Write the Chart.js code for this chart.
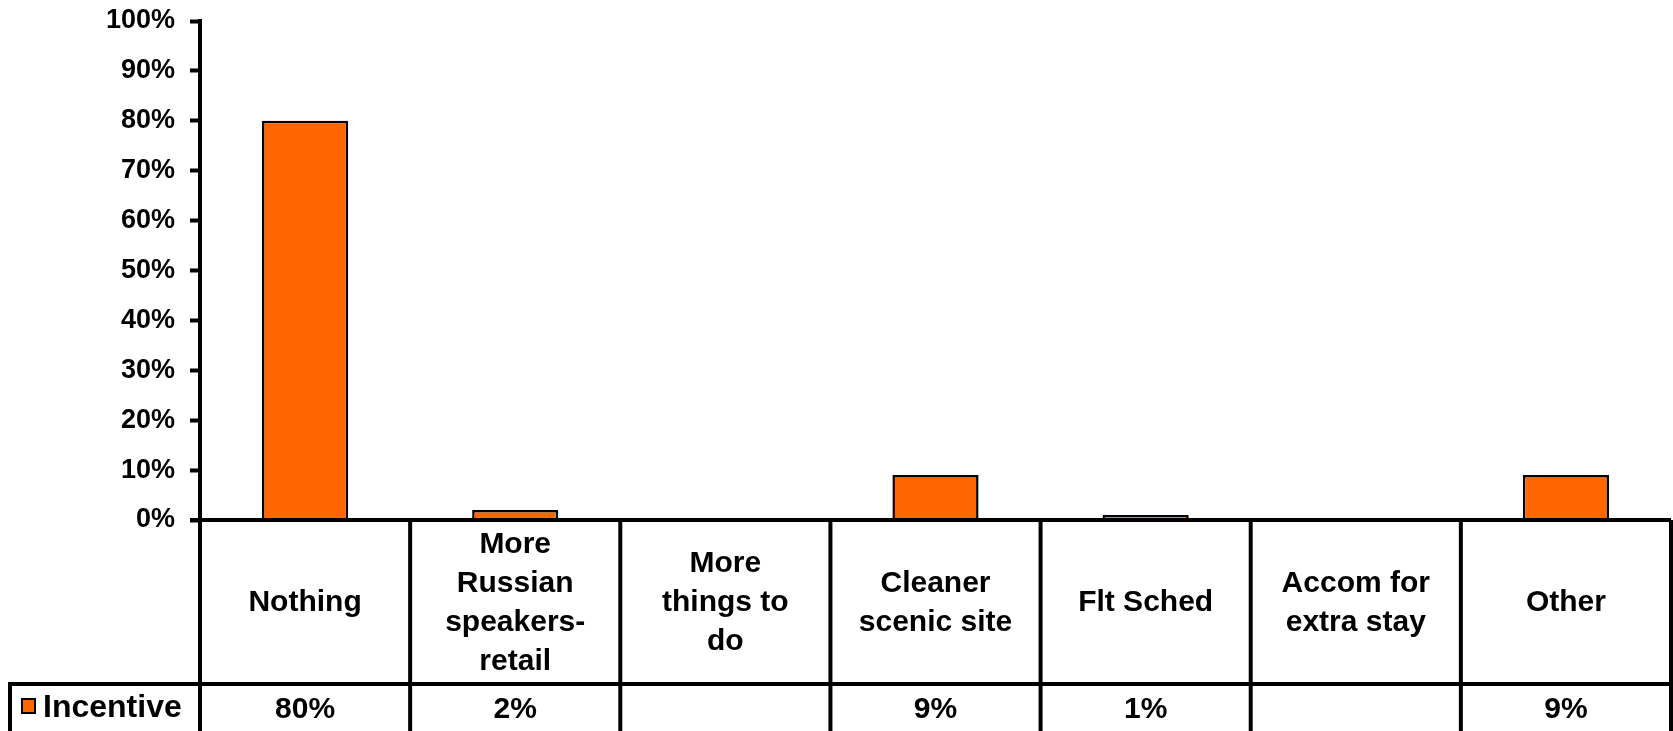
<!DOCTYPE html>
<html>
<head>
<meta charset="utf-8">
<title>Incentive</title>
<script src="https://cdn.jsdelivr.net/npm/chart.js@4/dist/chart.umd.min.js"></script>
<style>
  html, body { margin: 0; padding: 0; background: #fff; }
  #wrap { width: 1673px; height: 731px; }
</style>
</head>
<body>
<div id="wrap"><canvas id="incentiveChart" width="1673" height="731"></canvas></div>
<script>
const categories = [
  ['Nothing'],
  ['More', 'Russian', 'speakers-', 'retail'],
  ['More', 'things to', 'do'],
  ['Cleaner', 'scenic site'],
  ['Flt Sched'],
  ['Accom for', 'extra stay'],
  ['Other'],
];
const seriesName = 'Incentive';
const incentive = [80, 2, null, 9, 1, null, 9];
const yTicks = [0, 10, 20, 30, 40, 50, 60, 70, 80, 90, 100];

const FONT = 'Liberation Sans';
const ORANGE = '#FF6600';
const LINE = 4;

// draws the data table under the plot: category row, value row and legend key
const dataTable = {
  id: 'dataTable',
  afterDraw(chart) {
    const ctx = chart.ctx;
    const area = chart.chartArea;
    const x = chart.scales.x;
    const n = categories.length;
    const colW = (area.right - area.left) / n;
    const top = area.bottom;
    const rowY = 684;
    const bottom = chart.height;

    ctx.save();
    ctx.strokeStyle = '#000';
    ctx.lineWidth = LINE;
    ctx.beginPath();
    // category axis line
    ctx.moveTo(area.left - 10, top);
    ctx.lineTo(area.right, top);
    // column separators
    for (let i = 0; i <= n; i++) {
      const cx = area.left + i * colW;
      ctx.moveTo(cx, top);
      ctx.lineTo(cx, bottom);
    }
    // value row top border incl. legend cell
    ctx.moveTo(10, rowY);
    ctx.lineTo(area.right, rowY);
    ctx.moveTo(10, rowY - LINE / 2);
    ctx.lineTo(10, bottom);
    ctx.stroke();

    ctx.fillStyle = '#000';
    ctx.textAlign = 'center';
    ctx.textBaseline = 'middle';
    ctx.font = 'bold 30px "' + FONT + '"';
    const lineH = 39;
    const midY = (top + rowY) / 2 + 1;
    categories.forEach((lines, i) => {
      const cx = x.getPixelForValue(i);
      const y0 = midY - ((lines.length - 1) * lineH) / 2;
      lines.forEach((t, j) => ctx.fillText(t, cx, y0 + j * lineH));
      const v = incentive[i];
      if (v !== null) ctx.fillText(v + '%', cx, 710);
    });

    // legend key
    ctx.fillStyle = ORANGE;
    ctx.fillRect(22, 699, 13, 14);
    ctx.lineWidth = 2;
    ctx.strokeRect(22, 699, 13, 14);
    ctx.fillStyle = '#000';
    ctx.textAlign = 'left';
    ctx.font = 'bold 32px "' + FONT + '"';
    ctx.fillText(seriesName, 43, 708);
    ctx.restore();
  },
};

new Chart(document.getElementById('incentiveChart'), {
  type: 'bar',
  data: {
    labels: categories.map((c) => c.join(' ')),
    datasets: [
      {
        label: seriesName,
        data: incentive,
        backgroundColor: ORANGE,
        borderColor: '#000',
        borderWidth: 2.5,
        categoryPercentage: 1,
        barPercentage: 0.41,
      },
    ],
  },
  options: {
    responsive: false,
    animation: false,
    layout: { padding: { top: 21, right: 2, bottom: 211, left: 0 } },
    plugins: {
      legend: { display: false },
      tooltip: { enabled: false },
    },
    scales: {
      x: { display: false },
      y: {
        min: 0,
        max: 100,
        afterFit: (scale) => {
          scale.width = 200;
          scale.paddingTop = 0;
          scale.paddingBottom = 0;
        },
        afterBuildTicks: (scale) => { scale.ticks = yTicks.map((v) => ({ value: v })); },
        border: { display: true, color: '#000', width: LINE },
        grid: {
          drawOnChartArea: false,
          drawTicks: true,
          tickLength: 10,
          tickWidth: LINE,
          tickColor: '#000',
        },
        ticks: {
          padding: 15,
          color: '#000',
          font: { family: FONT, size: 27, weight: 'bold' },
          callback: (v) => v + '%',
        },
      },
    },
  },
  plugins: [dataTable],
});
</script>
</body>
</html>
